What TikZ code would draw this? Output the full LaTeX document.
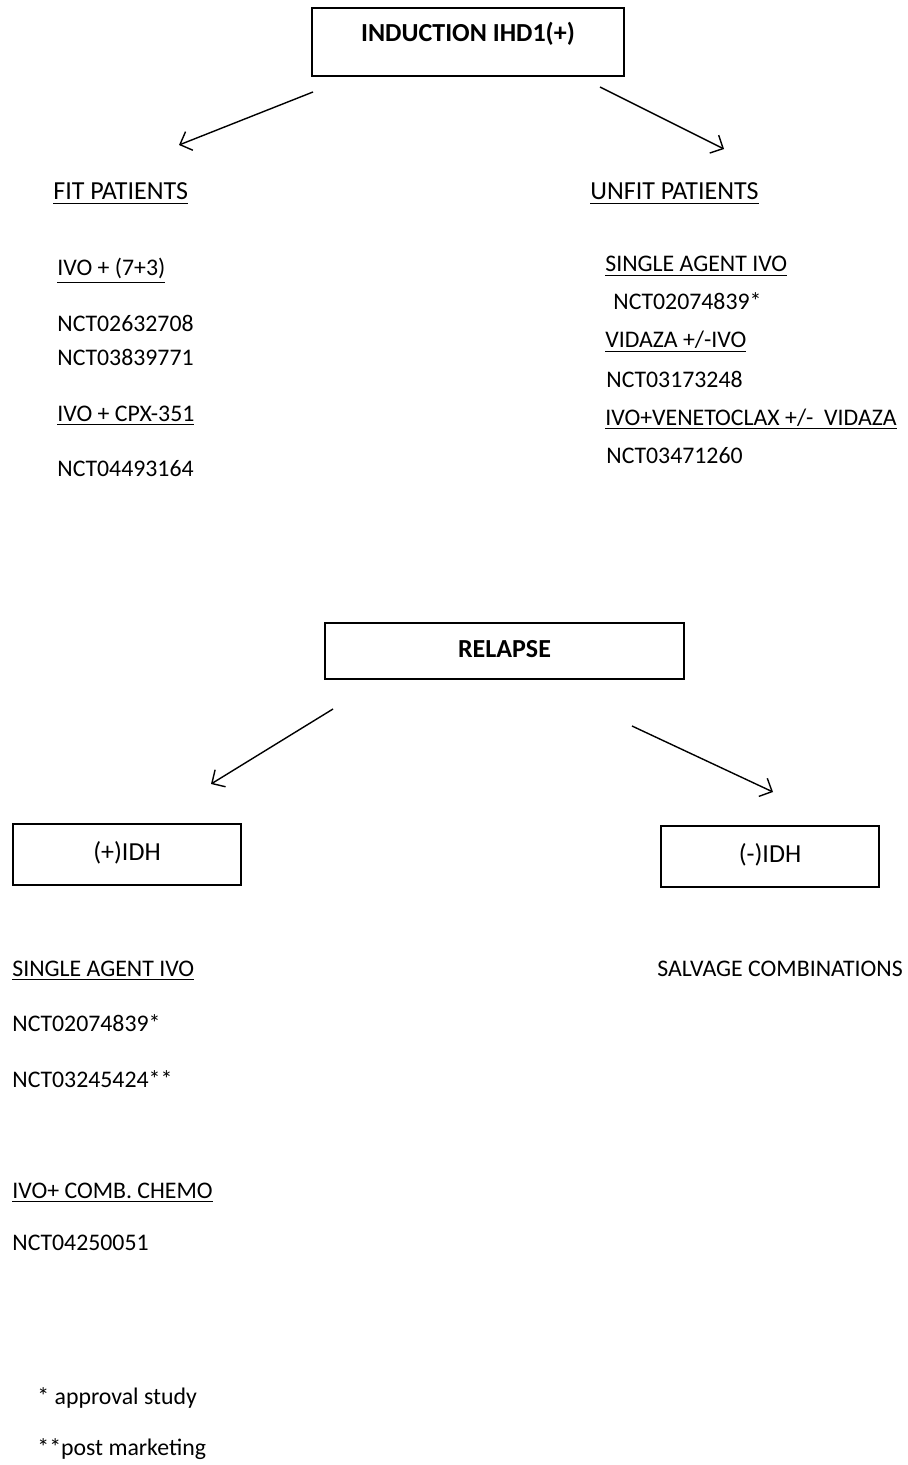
\documentclass[tikz,border=0pt]{standalone}
\usepackage{fontspec}
\setmainfont{Carlito}
\usetikzlibrary{arrows.meta}
\begin{document}
\begin{tikzpicture}[x=0.5pt,y=-0.5pt,
  every node/.style={font=\fontsize{11.9}{14.3}\selectfont, inner sep=0pt},
  big/.style={font=\fontsize{13}{15.6}\selectfont},
  box/.style={draw, line width=0.8pt, anchor=base, align=center, big},
  entry/.style={anchor=base west},
  link/.style={-{Straight Barb[length=5pt,width=10pt]}, line width=0.7pt}]
  \useasboundingbox (0,0) rectangle (908,1465);
  \node[box, minimum width=156pt, text height=17pt, text depth=17pt] (induct) at (468,42) {\bfseries INDUCTION IHD1(+)};
  \node[box, minimum width=179.5pt, text height=17pt, text depth=11pt] (relapse) at (504.5,657) {\bfseries RELAPSE};
  \node[box, minimum width=114pt, text height=18pt, text depth=12.5pt] (posidh) at (127,860) {(+)IDH};
  \node[box, minimum width=109pt, text height=18pt, text depth=12.5pt] (negidh) at (770,862) {(-)IDH};

  \coordinate (fitfrom) at (313,92);
  \coordinate (fitto) at (179,145);
  \coordinate (unfitfrom) at (600,87);
  \coordinate (unfitto) at (724,149);
  \coordinate (posfrom) at (333,709);
  \coordinate (posto) at (211,784);
  \coordinate (negfrom) at (632,726);
  \coordinate (negto) at (773,792);
  \draw[link] (fitfrom) -- (fitto);
  \draw[link] (unfitfrom) -- (unfitto);
  \draw[link] (posfrom) -- (posto);
  \draw[link] (negfrom) -- (negto);

  \node[entry, big] (fit) at (53,200) {\underline{FIT PATIENTS}};
  \node[entry] (fitA) at (57,276) {\underline{IVO + (7+3)}};
  \node[entry] (fitA1) at (57,332) {NCT02632708};
  \node[entry] (fitA2) at (57,365) {NCT03839771};
  \node[entry] (fitB) at (57,421) {\underline{IVO + CPX-351}};
  \node[entry] (fitB1) at (57,476) {NCT04493164};

  \node[entry, big] (unfit) at (590,200) {\underline{UNFIT PATIENTS}};
  \node[entry] (unfitA) at (605,272) {\underline{SINGLE AGENT IVO}};
  \node[entry] (unfitA1) at (613,310) {NCT02074839*};
  \node[entry] (unfitB) at (605,348) {\underline{VIDAZA +/-IVO}};
  \node[entry] (unfitB1) at (606,387) {NCT03173248};
  \node[entry] (unfitC) at (605,425) {\underline{IVO+VENETOCLAX +/-\ \ VIDAZA}};
  \node[entry] (unfitC1) at (606,463) {NCT03471260};

  \node[entry] (posA) at (12,976) {\underline{SINGLE AGENT IVO}};
  \node[entry] (posA1) at (12,1031) {NCT02074839*};
  \node[entry] (posA2) at (12,1087) {NCT03245424**};
  \node[entry] (posB) at (12,1198) {\underline{IVO+ COMB. CHEMO}};
  \node[entry] (posB1) at (12,1250) {NCT04250051};
  \node[entry] (salvage) at (657,976) {SALVAGE COMBINATIONS};

  \node[entry] (noteA) at (37,1404) {* approval study};
  \node[entry] (noteB) at (37,1455) {**post marketing};
\end{tikzpicture}
\end{document}
